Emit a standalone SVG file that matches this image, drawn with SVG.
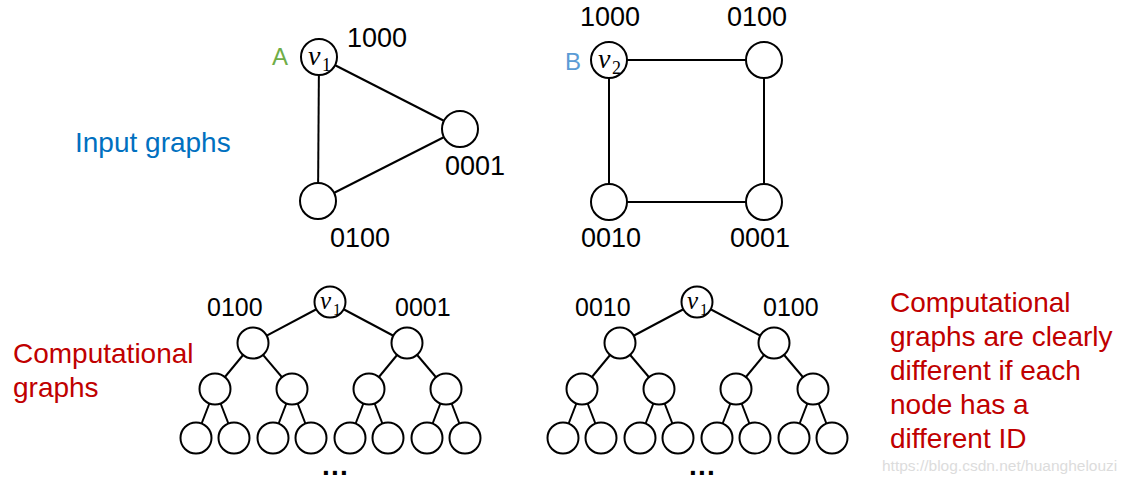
<svg xmlns="http://www.w3.org/2000/svg" width="1132" height="483" viewBox="0 0 1132 483">
<style>
.n{fill:#fff;stroke:#000;stroke-width:2}
.e{stroke:#000;stroke-width:2;fill:none}
.lbl{font-family:"Liberation Sans",Arial,sans-serif;font-size:27px;fill:#000}
.tl{font-family:"Liberation Sans",Arial,sans-serif;font-size:25px;fill:#000}
.big{font-family:"Liberation Sans",Arial,sans-serif;font-size:28px}
.red{fill:#C00000}
.math{font-family:"Liberation Serif","Times New Roman",serif;font-style:italic;fill:#000}
.sub{font-family:"Liberation Serif","Times New Roman",serif;font-style:normal;fill:#000}
.dots{font-family:"Liberation Sans",Arial,sans-serif;font-weight:bold;font-size:28px;letter-spacing:1.2px;fill:#000}
</style>
<rect width="1132" height="483" fill="#fff"/>
<g id="connectors">
  <line class="e" x1="319" y1="57" x2="460" y2="129"/>
  <line class="e" x1="319" y1="57" x2="318" y2="201"/>
  <line class="e" x1="460" y1="129" x2="318" y2="201"/>
  <line class="e" x1="609" y1="60" x2="764" y2="60"/>
  <line class="e" x1="609" y1="60" x2="609" y2="202"/>
  <line class="e" x1="764" y1="60" x2="764" y2="202"/>
  <line class="e" x1="609" y1="202" x2="764" y2="202"/>
  <line class="e" x1="330" y1="302" x2="253" y2="343"/>
  <line class="e" x1="330" y1="302" x2="407" y2="343"/>
  <line class="e" x1="253" y1="343" x2="215" y2="389"/>
  <line class="e" x1="253" y1="343" x2="292" y2="389"/>
  <line class="e" x1="407" y1="343" x2="369" y2="389"/>
  <line class="e" x1="407" y1="343" x2="446" y2="389"/>
  <line class="e" x1="215" y1="389" x2="196" y2="438"/>
  <line class="e" x1="215" y1="389" x2="234" y2="438"/>
  <line class="e" x1="292" y1="389" x2="273" y2="438"/>
  <line class="e" x1="292" y1="389" x2="311" y2="438"/>
  <line class="e" x1="369" y1="389" x2="350" y2="438"/>
  <line class="e" x1="369" y1="389" x2="388" y2="438"/>
  <line class="e" x1="446" y1="389" x2="427" y2="438"/>
  <line class="e" x1="446" y1="389" x2="465" y2="438"/>
  <line class="e" x1="697" y1="302" x2="620" y2="343"/>
  <line class="e" x1="697" y1="302" x2="774" y2="343"/>
  <line class="e" x1="620" y1="343" x2="582" y2="389"/>
  <line class="e" x1="620" y1="343" x2="659" y2="389"/>
  <line class="e" x1="774" y1="343" x2="736" y2="389"/>
  <line class="e" x1="774" y1="343" x2="813" y2="389"/>
  <line class="e" x1="582" y1="389" x2="563" y2="438"/>
  <line class="e" x1="582" y1="389" x2="601" y2="438"/>
  <line class="e" x1="659" y1="389" x2="640" y2="438"/>
  <line class="e" x1="659" y1="389" x2="678" y2="438"/>
  <line class="e" x1="736" y1="389" x2="717" y2="438"/>
  <line class="e" x1="736" y1="389" x2="755" y2="438"/>
  <line class="e" x1="813" y1="389" x2="794" y2="438"/>
  <line class="e" x1="813" y1="389" x2="832" y2="438"/>
</g>
<g id="A-v1">
  <circle class="n" cx="319" cy="57" r="18"/>
  <text class="math" x="308" y="65" font-size="28">v</text><text class="sub" x="322" y="71" font-size="18">1</text>
  <text class="lbl" x="347" y="47">1000</text>
</g>
<g id="A-0001">
  <circle class="n" cx="460" cy="129" r="18"/>
  <text class="lbl" x="445" y="175">0001</text>
</g>
<g id="A-0100">
  <circle class="n" cx="318" cy="201" r="18"/>
  <text class="lbl" x="330" y="247">0100</text>
</g>
<text x="272" y="65" font-family="Liberation Sans,Arial,sans-serif" font-size="24" fill="#70AD47">A</text>
<g id="B-v2">
  <circle class="n" cx="609" cy="60" r="18"/>
  <text class="math" x="598" y="68" font-size="28">v</text><text class="sub" x="612" y="74" font-size="18">2</text>
  <text class="lbl" x="580" y="26">1000</text>
</g>
<g id="B-0100">
  <circle class="n" cx="764" cy="60" r="18"/>
  <text class="lbl" x="727" y="26">0100</text>
</g>
<g id="B-0010">
  <circle class="n" cx="609" cy="202" r="18"/>
  <text class="lbl" x="581" y="247">0010</text>
</g>
<g id="B-0001">
  <circle class="n" cx="764" cy="202" r="18"/>
  <text class="lbl" x="730" y="247">0001</text>
</g>
<text x="565" y="70" font-family="Liberation Sans,Arial,sans-serif" font-size="24" fill="#5B9BD5">B</text>
<text class="big" x="75" y="152" fill="#0070C0">Input graphs</text>
<g id="T1-root">
  <circle class="n" cx="330" cy="302" r="15.5"/>
  <text class="math" x="320" y="309" font-size="25">v</text><text class="sub" x="333" y="315" font-size="16">1</text>
  <text class="tl" x="207" y="316">0100</text>
  <text class="tl" x="395" y="316">0001</text>
</g>
<g id="T1-L1">
  <circle class="n" cx="253" cy="343" r="15.5"/>
  <circle class="n" cx="407" cy="343" r="15.5"/>
</g>
<g id="T1-L2">
  <circle class="n" cx="215" cy="389" r="15.5"/>
  <circle class="n" cx="292" cy="389" r="15.5"/>
  <circle class="n" cx="369" cy="389" r="15.5"/>
  <circle class="n" cx="446" cy="389" r="15.5"/>
</g>
<g id="T1-L3">
  <circle class="n" cx="196" cy="438" r="15.5"/>
  <circle class="n" cx="234" cy="438" r="15.5"/>
  <circle class="n" cx="273" cy="438" r="15.5"/>
  <circle class="n" cx="311" cy="438" r="15.5"/>
  <circle class="n" cx="350" cy="438" r="15.5"/>
  <circle class="n" cx="388" cy="438" r="15.5"/>
  <circle class="n" cx="427" cy="438" r="15.5"/>
  <circle class="n" cx="465" cy="438" r="15.5"/>
  <text class="dots" x="322" y="475">...</text>
</g>
<g id="T2-root">
  <circle class="n" cx="697" cy="302" r="15.5"/>
  <text class="math" x="687" y="309" font-size="25">v</text><text class="sub" x="700" y="315" font-size="16">1</text>
  <text class="tl" x="575" y="316">0010</text>
  <text class="tl" x="763" y="316">0100</text>
</g>
<g id="T2-L1">
  <circle class="n" cx="620" cy="343" r="15.5"/>
  <circle class="n" cx="774" cy="343" r="15.5"/>
</g>
<g id="T2-L2">
  <circle class="n" cx="582" cy="389" r="15.5"/>
  <circle class="n" cx="659" cy="389" r="15.5"/>
  <circle class="n" cx="736" cy="389" r="15.5"/>
  <circle class="n" cx="813" cy="389" r="15.5"/>
</g>
<g id="T2-L3">
  <circle class="n" cx="563" cy="438" r="15.5"/>
  <circle class="n" cx="601" cy="438" r="15.5"/>
  <circle class="n" cx="640" cy="438" r="15.5"/>
  <circle class="n" cx="678" cy="438" r="15.5"/>
  <circle class="n" cx="717" cy="438" r="15.5"/>
  <circle class="n" cx="755" cy="438" r="15.5"/>
  <circle class="n" cx="794" cy="438" r="15.5"/>
  <circle class="n" cx="832" cy="438" r="15.5"/>
  <text class="dots" x="689" y="475">...</text>
</g>
<text class="big red" x="13" y="363">Computational</text>
<text class="big red" x="13" y="397">graphs</text>
<g class="big red">
  <text x="890" y="312">Computational</text>
  <text x="890" y="346">graphs are clearly</text>
  <text x="890" y="380">different if each</text>
  <text x="890" y="414">node has a</text>
  <text x="890" y="448">different ID</text>
</g>
<text x="882" y="471" font-family="Liberation Sans,Arial,sans-serif" font-size="15.5" fill="#dcdcdc">https://blog.csdn.net/huanghelouzi</text>
</svg>
